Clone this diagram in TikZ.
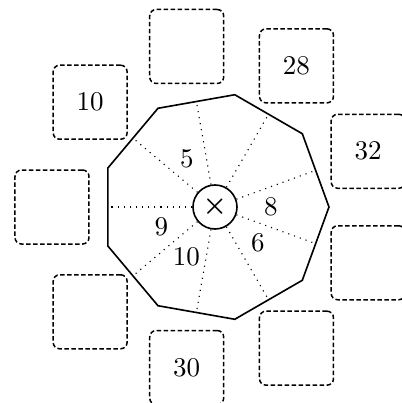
\documentclass[tikz,border=0pt]{standalone}
\usepackage{amsmath}
\begin{document}
\begin{tikzpicture}[x=0.4pt,y=0.4pt,
  font=\fontsize{10.8}{12}\selectfont,
  frame/.style={line width=0.65pt, line join=miter},
  spoke/.style={dotted, line width=0.45pt},
  slot/.style={draw, rectangle, rounded corners=2.6pt, minimum size=29.6pt, inner sep=0pt,
    line width=0.6pt, dash pattern=on 1.8pt off 1pt},
  hub/.style={draw, circle, minimum size=17.6pt, inner sep=0pt, line width=0.65pt},
  num/.style={inner sep=0pt}]
\useasboundingbox (-215,-196) rectangle (187,207);
\clip (-215,-196) rectangle (187,207);
% nonagon
\draw[frame] (0:114) \foreach \a in {40,80,...,320}{ -- (\a:114)} -- cycle;
% hub
\node[hub] (c) at (0,0) {$\boldsymbol{\times}$};
% spokes
\foreach \a in {20,60,...,340}{
  \coordinate (m\a) at (\a:107.1);
  \draw[spoke] (c) -- (m\a);
}
% sector labels
\node[num] (s120) at (120:56) {5};
\node[num] (s0) at (0:56) {8};
\node[num] (s320) at (320:56) {6};
\node[num] (s240) at (240:57) {10};
\node[num] (s200) at (200:57) {9};
% outer slots
\node[slot] (b20) at (20:163) {32};
\node[slot] (b60) at (60:163) {28};
\node[slot] (b100) at (100:163) {};
\node[slot] (b140) at (140:163) {10};
\node[slot] (b180) at (180:163) {};
\node[slot] (b220) at (220:163) {};
\node[slot] (b260) at (260:163) {30};
\node[slot] (b300) at (300:163) {};
\node[slot] (b340) at (340:163) {};
\end{tikzpicture}
\end{document}
